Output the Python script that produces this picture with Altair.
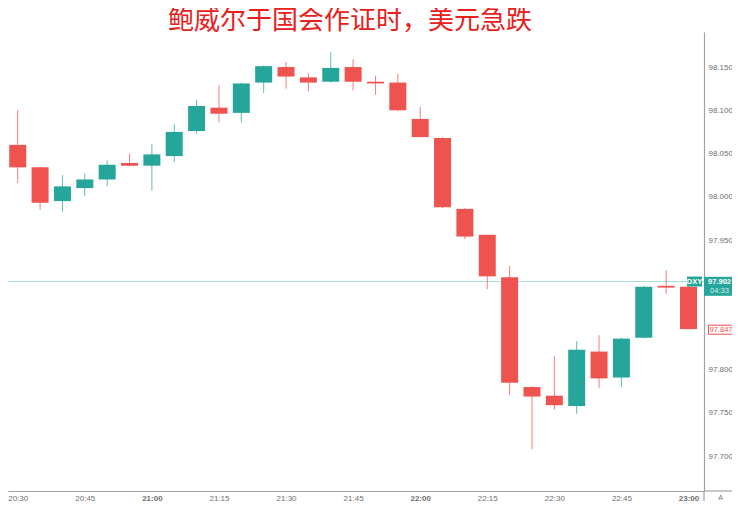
import altair as alt
import pandas as pd

# ---- data (5-minute DXY candles) ----
times = ["20:30", "20:35", "20:40", "20:45", "20:50", "20:55",
         "21:00", "21:05", "21:10", "21:15", "21:20", "21:25",
         "21:30", "21:35", "21:40", "21:45", "21:50", "21:55",
         "22:00", "22:05", "22:10", "22:15", "22:20", "22:25",
         "22:30", "22:35", "22:40", "22:45", "22:50", "22:55", "23:00"]
opens = [98.060, 98.034, 97.995, 98.010, 98.020, 98.039, 98.036, 98.047, 98.076, 98.103,
         98.097, 98.132, 98.150, 98.138, 98.133, 98.150, 98.133, 98.132, 98.090, 98.068,
         97.986, 97.956, 97.907, 97.780, 97.770, 97.758, 97.821, 97.791, 97.837, 97.897, 97.896]
highs = [98.100, 98.035, 98.025, 98.027, 98.042, 98.050, 98.061, 98.084, 98.112, 98.129,
         98.132, 98.152, 98.156, 98.143, 98.167, 98.159, 98.140, 98.142, 98.104, 98.069,
         97.987, 97.956, 97.920, 97.781, 97.816, 97.833, 97.840, 97.837, 97.897, 97.915, 97.897]
lows = [98.016, 97.985, 97.983, 98.001, 98.012, 98.035, 98.007, 98.040, 98.073, 98.086,
        98.086, 98.120, 98.125, 98.122, 98.132, 98.123, 98.118, 98.099, 98.069, 97.987,
        97.951, 97.893, 97.771, 97.708, 97.754, 97.749, 97.779, 97.780, 97.836, 97.888, 97.847]
closes = [98.034, 97.993, 98.012, 98.020, 98.037, 98.036, 98.049, 98.075, 98.105, 98.096,
          98.131, 98.151, 98.139, 98.132, 98.149, 98.133, 98.131, 98.100, 98.069, 97.988,
          97.954, 97.908, 97.785, 97.769, 97.759, 97.823, 97.790, 97.836, 97.896, 97.895, 97.847]

x_tick_labels = ["20:30", "20:45", "21:00", "21:15", "21:30", "21:45",
                 "22:00", "22:15", "22:30", "22:45", "23:00"]
# 97.900 and 97.850 are hidden behind the price-label boxes in the reference
y_ticks = [97.70, 97.75, 97.80, 97.95, 98.00, 98.05, 98.10, 98.15]

last_price = 97.902
last_close = closes[-1]
symbol = "DXY"
countdown = "04:33"
title_text = "鲍威尔于国会作证时，美元急跌"

GREEN = "#26a69a"
RED = "#ef5350"
AXIS_GRAY = "#a3a3a3"
LABEL_GRAY = "#6f6f6f"


def to_min(t):
    h, m = t.split(":")
    return int(h) * 60 + int(m) - 20 * 60


df = pd.DataFrame({
    "t": [to_min(t) for t in times],
    "time": times,
    "open": opens, "high": highs, "low": lows, "close": closes,
})
df["dir"] = ["up" if c >= o else "down" for o, c in zip(opens, closes)]
df["top"] = [max(o, c) for o, c in zip(opens, closes)]
df["bot"] = [min(o, c) for o, c in zip(opens, closes)]

x_scale = alt.Scale(domain=[28.942, 182.35], nice=False, zero=False)
y_scale = alt.Scale(domain=[97.6598, 98.1905], nice=False, zero=False)
color_scale = alt.Scale(domain=["up", "down"], range=[GREEN, RED])

x_axis = alt.Axis(
    values=[to_min(t) for t in x_tick_labels],
    labelExpr="format(floor(datum.value/60)+20,'02d') + ':' + format(datum.value%60,'02d')",
    grid=False, ticks=False, domainColor=AXIS_GRAY, domainWidth=1.2,
    labelFontSize=8, labelFont="Liberation Sans", labelColor=LABEL_GRAY,
    labelFontWeight={"condition": {"test": "datum.value % 60 === 0", "value": "bold"}, "value": "normal"},
    labelPadding=3, title=None, labelFlush=False,
)
y_axis = alt.Axis(
    orient="right", values=y_ticks, format=".3f", grid=False, ticks=False,
    domainColor=AXIS_GRAY, domainWidth=1.2, labelFontSize=8, labelFont="Liberation Sans",
    labelColor=LABEL_GRAY, labelPadding=4, title=None,
)

base = alt.Chart(df)

price_line = alt.Chart(pd.DataFrame({"p": [last_price]})).mark_rule(
    color="#a9ddd7", strokeWidth=1
).encode(y=alt.Y("p:Q", scale=y_scale, axis=y_axis))

wicks = base.mark_rule(strokeWidth=1, opacity=0.75).encode(
    x=alt.X("t:Q", scale=x_scale, axis=x_axis),
    y=alt.Y("low:Q", scale=y_scale, axis=y_axis),
    y2="high:Q",
    color=alt.Color("dir:N", scale=color_scale, legend=None),
)

bodies = base.mark_bar(size=17).encode(
    x=alt.X("t:Q", scale=x_scale, axis=x_axis),
    y=alt.Y("bot:Q", scale=y_scale, axis=y_axis),
    y2="top:Q",
    color=alt.Color("dir:N", scale=color_scale, legend=None),
)

# price-label boxes on the right axis
ann = alt.Chart(pd.DataFrame({"p": [last_price]}))
sym_box = ann.mark_rule(color=GREEN, strokeWidth=10).encode(
    y=alt.Y("p:Q", scale=y_scale, axis=y_axis), x=alt.value(679), x2=alt.value(694))
price_box = ann.mark_rule(color=GREEN, strokeWidth=19, yOffset=4.8).encode(
    y=alt.Y("p:Q", scale=y_scale, axis=y_axis), x=alt.value(696), x2=alt.value(727))
sym_txt = ann.mark_text(color="white", fontSize=7.5, fontWeight="bold", font="Liberation Sans",
                        align="center", baseline="middle").encode(
    y=alt.Y("p:Q", scale=y_scale, axis=y_axis), x=alt.value(686.5), text=alt.value(symbol))
price_txt = ann.mark_text(color="white", fontSize=7.5, fontWeight="bold", font="Liberation Sans",
                          align="center", baseline="middle").encode(
    y=alt.Y("p:Q", scale=y_scale, axis=y_axis), x=alt.value(711.5), text=alt.Text("p:Q", format=".3f"))
cd_txt = ann.mark_text(color="#d6f1ee", fontSize=7.5, font="Liberation Sans",
                       align="center", baseline="middle", yOffset=9.3).encode(
    y=alt.Y("p:Q", scale=y_scale, axis=y_axis), x=alt.value(711.5), text=alt.value(countdown))

ann2 = alt.Chart(pd.DataFrame({"p": [last_close]}))
close_box_o = ann2.mark_rule(color=RED, strokeWidth=10, yOffset=0.6).encode(
    y=alt.Y("p:Q", scale=y_scale, axis=y_axis), x=alt.value(700), x2=alt.value(726))
close_box_i = ann2.mark_rule(color="white", strokeWidth=8, yOffset=0.6).encode(
    y=alt.Y("p:Q", scale=y_scale, axis=y_axis), x=alt.value(701), x2=alt.value(725))
close_txt = ann2.mark_text(color=RED, fontSize=7.5, font="Liberation Sans",
                           align="center", baseline="middle", yOffset=0.6).encode(
    y=alt.Y("p:Q", scale=y_scale, axis=y_axis), x=alt.value(713), text=alt.Text("p:Q", format=".3f"))

# axis-line extensions (TradingView style) and the auto-scale "A" button
hext = alt.Chart(pd.DataFrame({"k": [0]})).mark_rule(color=AXIS_GRAY, strokeWidth=1.2).encode(
    x=alt.value(696), x2=alt.value(724), y=alt.value(459))
vext = alt.Chart(pd.DataFrame({"k": [0]})).mark_rule(color=AXIS_GRAY, strokeWidth=1.2).encode(
    x=alt.value(696), y=alt.value(459), y2=alt.value(475))
a_btn = alt.Chart(pd.DataFrame({"k": [0]})).mark_text(
    color=LABEL_GRAY, fontSize=7, font="Liberation Sans", align="center", baseline="middle").encode(
    x=alt.value(712.7), y=alt.value(466), text=alt.value("A"))

chart = alt.layer(
    price_line, wicks, bodies, sym_box, price_box, sym_txt, price_txt, cd_txt,
    close_box_o, close_box_i, close_txt, hext, vext, a_btn,
).properties(
    width=696, height=459,
    autosize=alt.AutoSizeParams(type="none"),
    padding={"left": 0, "top": 24, "right": 28, "bottom": 10},
    title=alt.TitleParams(
        text=title_text, fontSize=26, font="Noto Sans CJK SC", fontWeight="normal",
        color="#e8201c", anchor="middle", frame="group", offset=6, dx=-6, dy=8,
    ),
    background="white",
).configure_view(stroke=None)

chart.save("out.html", embed_options={"renderer": "svg", "actions": False})
